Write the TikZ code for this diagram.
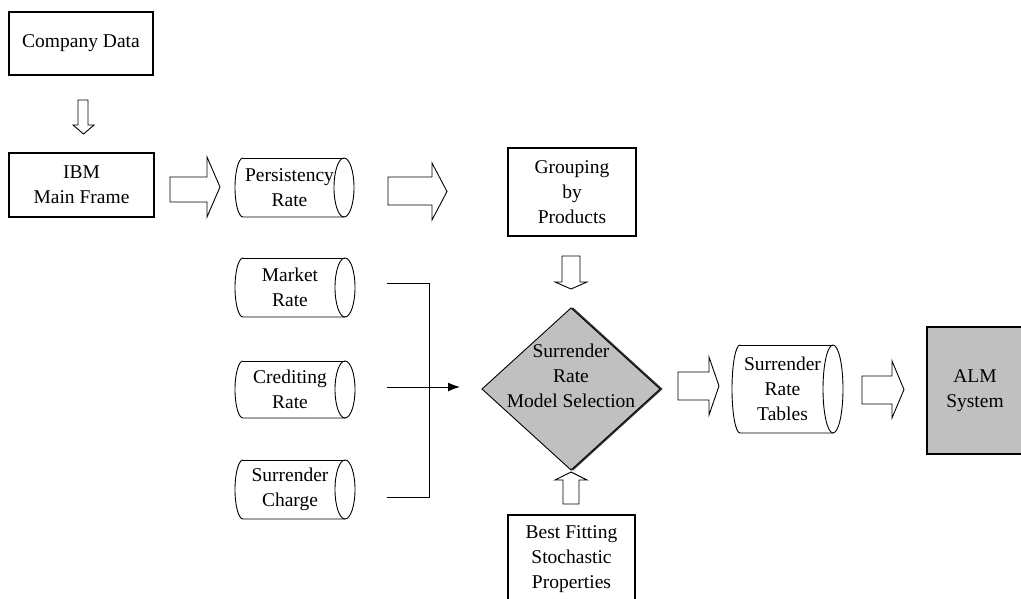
\documentclass[tikz,border=0pt]{standalone}
\usepackage{fontspec}
\setmainfont{Liberation Serif}
\usetikzlibrary{arrows.meta,calc}
\definecolor{boxgray}{HTML}{C0C0C0}
\tikzset{
  txt/.style={font=\fontsize{19.5}{25}\selectfont, align=center, inner sep=0pt},
  plainbox/.style={draw, line width=1.6pt, rectangle, font=\fontsize{19.5}{25}\selectfont, align=center, inner sep=0pt},
  graybox/.style={draw, line width=1.1pt, fill=boxgray, rectangle, font=\fontsize{19.5}{25}\selectfont, align=center, inner sep=0pt},
  thin/.style={line width=0.9pt},
  blockarrow/.style={draw, line width=0.9pt, fill=white, line join=miter},
  link/.style={line width=1pt}
}
% cylinder: name, L, T, R, B, text
\newcommand\mycyl[6]{%
  \pgfmathsetmacro\cylry{(#5-#3)/2}%
  \pgfmathsetmacro\cylmy{(#5+#3)/2}%
  \draw[thin] (#2+8,#3) arc[start angle=90,end angle=270,x radius=8pt,y radius=\cylry pt] -- (#4-10,#5);
  \draw[thin] (#2+8,#3) -- (#4-10,#3);
  \draw[thin] (#4-10,\cylmy) ellipse[x radius=10pt,y radius=\cylry pt];
  \node[txt] (#1) at ({(#2+#4-10)/2},\cylmy) {#6};
}
% right block arrow: x0, shaft top, shaft bottom, head x, head top, head bottom, tip
\newcommand\myrarrow[7]{%
  \draw[blockarrow] (#1,#2) -- (#4,#2) -- (#4,#5) -- (#7,{(#5+#6)/2}) -- (#4,#6) -- (#4,#3) -- (#1,#3) -- cycle;
}
% vertical block arrow: shaft left, shaft right, shaft end, head left, head right, head base, tip
\newcommand\myvarrow[7]{%
  \draw[blockarrow] (#1,#3) -- (#2,#3) -- (#2,#6) -- (#5,#6) -- ({(#4+#5)/2},#7) -- (#4,#6) -- (#1,#6) -- cycle;
}
\begin{document}
\begin{tikzpicture}[x=1pt,y=-1pt]
\useasboundingbox (0,0) rectangle (1021,599);

% boxes
\node[plainbox, minimum width=144pt, minimum height=63pt] (comp) at (81,43.5) {Company Data};
\node[plainbox, minimum width=145pt, minimum height=64pt] (ibm) at (81.5,185) {IBM\\Main Frame};
\node[plainbox, minimum width=128pt, minimum height=88pt] (grp) at (572,192) {Grouping\\by\\Products};
\node[plainbox, minimum width=127pt, minimum height=88pt] (best) at (571.5,559) {Best Fitting\\Stochastic\\Properties};
\node[graybox, minimum width=96pt, minimum height=127pt] (alm) at (975,390.5) {ALM\\System};

% cylinders
\mycyl{pers}{235}{158}{354}{217}{Persistency\\Rate}
\mycyl{market}{235}{258}{355}{317}{Market\\Rate}
\mycyl{cred}{235}{361}{355}{418}{Crediting\\Rate}
\mycyl{surch}{235}{460}{355}{519}{Surrender\\Charge}
\mycyl{tables}{732}{345}{843}{433}{Surrender\\Rate\\Tables}

% diamond
\coordinate (dl) at (482,389);
\coordinate (dt) at (571,308);
\coordinate (dr) at (660,389);
\coordinate (db) at (571,470);
\draw[line width=1.5pt, black!80] ($(dt)+(1.5,0)$) -- ($(dr)+(1.5,0)$) -- ($(db)+(1.5,0)$);
\draw[line width=0.9pt, fill=boxgray] (dl) -- (dt) -- (dr) -- (db) -- cycle;
\node[txt] (sel) at (571,376) {Surrender\\Rate\\Model Selection};

% block arrows
\myvarrow{78}{88}{100}{73}{94}{125}{134}
\myrarrow{170}{177}{202}{207}{157}{217}{220}
\myrarrow{388}{177}{205}{432}{163}{220}{447}
\myvarrow{562}{580}{256}{555}{587}{282}{289}
\myvarrow{563}{579}{504}{555}{587}{480}{472}
\myrarrow{678}{372}{400}{709}{357}{415}{719}
\myrarrow{862}{376}{404}{892}{361}{418}{904}

% bracket connector
\coordinate (mk) at (387,283);
\coordinate (cr) at (387,387);
\coordinate (sc) at (387,497);
\coordinate (jt) at (429,283);
\coordinate (jm) at (429,387);
\coordinate (jb) at (429,497);
\coordinate (in) at (460,387);
\draw[link] (mk) -- (jt) -- (jb) -- (sc);
\draw[link, -{Latex[length=12pt,width=9pt]}] (cr) -- (in);
\end{tikzpicture}
\end{document}
